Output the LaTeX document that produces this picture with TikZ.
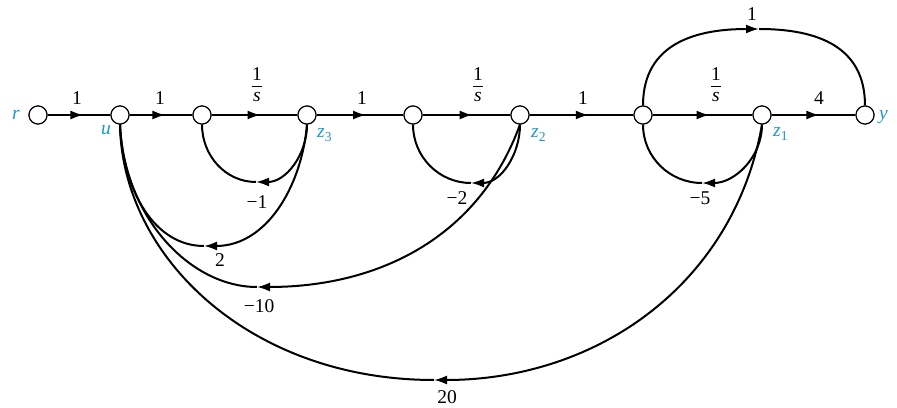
\documentclass[tikz,border=0pt]{standalone}
\usepackage{fontspec}
\setmainfont{Liberation Serif}
\usetikzlibrary{arrows.meta,decorations.markings}
\definecolor{sigblue}{RGB}{28,150,210}
\newcommand{\oneovers}{\shortstack{1\\[2.5pt]\rule{10pt}{0.8pt}\\[2.5pt]\textit{s}}}
\begin{document}
\begin{tikzpicture}[x=1pt,y=1pt,font=\fontsize{19.5}{21}\selectfont,
  sig/.style={circle,draw,fill=white,minimum size=18pt,inner sep=0pt,line width=1.1pt},
  edge/.style={line width=2pt},
  midarrow/.style={postaction={decorate},decoration={markings,mark=at position #1 with {\arrow{Latex[length=13pt,width=9pt]}}}},
  midarrow/.default=0.57,
  tipend/.style={-{Latex[length=13pt,width=9pt]}},
  lab/.style={inner sep=0pt},
  sname/.style={text=sigblue,inner sep=0pt,anchor=base west,font=\fontsize{19.5}{21}\selectfont\itshape}]
\useasboundingbox (0,0) rectangle (897,407);
% signal nodes
\node[sig] (r)  at (38,292) {};
\node[sig] (u)  at (120,292) {};
\node[sig] (n2) at (202,292) {};
\node[sig] (z3) at (307,292) {};
\node[sig] (n4) at (413,292) {};
\node[sig] (z2) at (520,292) {};
\node[sig] (n6) at (643,292) {};
\node[sig] (z1) at (762,292) {};
\node[sig] (y)  at (865,292) {};
% curve waypoints
\coordinate (t1) at (759,378);
\coordinate (c1) at (256,225);
\coordinate (c2) at (471,224);
\coordinate (c5) at (702,224);
\coordinate (k2) at (204,161);
\coordinate (k10) at (257,120);
\coordinate (k20) at (434,27);
% forward branches
\draw[edge,midarrow] (r) -- (u);
\draw[edge,midarrow] (u) -- (n2);
\draw[edge,midarrow] (n2) -- (z3);
\draw[edge,midarrow] (z3) -- (n4);
\draw[edge,midarrow] (n4) -- (z2);
\draw[edge,midarrow] (z2) -- (n6);
\draw[edge,midarrow] (n6) -- (z1);
\draw[edge,midarrow] (z1) -- (y);
% top branch
\draw[edge,tipend] (n6.north) to[out=90,in=180,looseness=1.15] (t1);
\draw[edge] (t1) to[out=0,in=90,looseness=1.15] (y.north);
% self loops
\draw[edge,tipend] (z3.south) to[out=-90,in=0] (c1);
\draw[edge] (c1) to[out=180,in=-90] (n2.south);
\draw[edge,tipend] (z2.south) to[out=-90,in=0] (c2);
\draw[edge] (c2) to[out=180,in=-90] (n4.south);
\draw[edge,tipend] (z1.south) to[out=-90,in=0] (c5);
\draw[edge] (c5) to[out=180,in=-90] (n6.south);
% feedback to u
\draw[edge,tipend] (z3.south) to[out=-95,in=0] (k2);
\draw[edge] (k2) .. controls (155,161) and (123,215) .. (u.south);
\draw[edge,tipend] (z2.south) to[out=-110,in=0] (k10);
\draw[edge] (k10) .. controls (190,120) and (124,190) .. (u.south);
\draw[edge,tipend] (z1.south) to[out=-100,in=0] (k20);
\draw[edge] (k20) .. controls (250,27) and (122,150) .. (u.south);
% redraw nodes on top
\foreach \n in {r,u,n2,z3,n4,z2,n6,z1,y} \node[sig] at (\n) {};
% gains
\node[lab] (g1) at (77,309) {1};
\node[lab] (g2) at (160,309) {1};
\node[lab] (g3) at (257,322) {\oneovers};
\node[lab] (g4) at (362,309) {1};
\node[lab] (g5) at (478,322) {\oneovers};
\node[lab] (g6) at (583,309) {1};
\node[lab] (g7) at (716,322) {\oneovers};
\node[lab] (g8) at (819,309) {4};
\node[lab] (g9) at (752,393) {1};
\node[lab] (g10) at (257,205) {−1};
\node[lab] (g11) at (457,209) {−2};
\node[lab] (g12) at (700,209) {−5};
\node[lab] (g13) at (220,147) {2};
\node[lab] (g14) at (259,101) {−10};
\node[lab] (g15) at (447,10) {20};
% signal names
\node[sname] (lr) at (12,287) {r};
\node[sname] (lu) at (101,272) {u};
\node[sname] (lz3) at (317,269) {z\textsubscript{\upshape 3}};
\node[sname] (lz2) at (531,269) {z\textsubscript{\upshape 2}};
\node[sname] (lz1) at (773,270) {z\textsubscript{\upshape 1}};
\node[sname] (ly) at (879,287) {y};
\end{tikzpicture}
\end{document}
